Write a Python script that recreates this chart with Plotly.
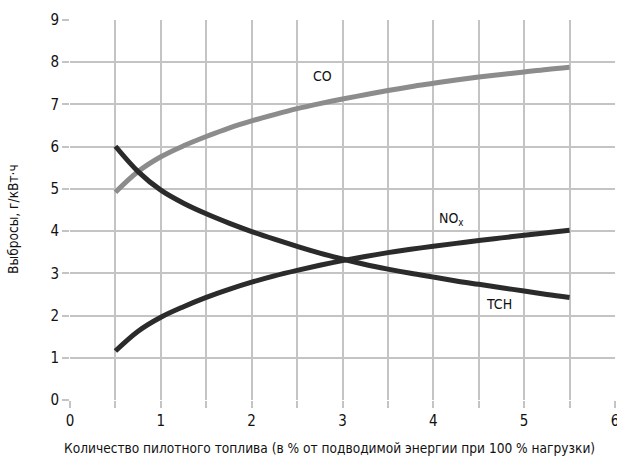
import plotly.graph_objects as go

# Data
pilot_fuel = [0.5, 0.75, 1.0, 1.25, 1.5, 1.75, 2.0, 2.25, 2.5, 2.75, 3.0,
              3.25, 3.5, 3.75, 4.0, 4.25, 4.5, 4.75, 5.0, 5.25, 5.5]
co_values = [4.92, 5.41, 5.76, 6.02, 6.24, 6.44, 6.61, 6.76, 6.90, 7.02, 7.13,
             7.23, 7.33, 7.42, 7.50, 7.58, 7.65, 7.71, 7.77, 7.83, 7.88]
tch_values = [6.01, 5.41, 4.97, 4.66, 4.41, 4.19, 3.99, 3.81, 3.64, 3.48, 3.34,
              3.21, 3.10, 3.00, 2.91, 2.82, 2.74, 2.66, 2.58, 2.50, 2.43]
nox_values = [1.16, 1.63, 1.96, 2.21, 2.43, 2.62, 2.79, 2.94, 3.07, 3.19, 3.30,
              3.40, 3.49, 3.57, 3.64, 3.71, 3.78, 3.84, 3.90, 3.96, 4.02]

x_ticks = [0, 1, 2, 3, 4, 5, 6]
y_ticks = [0, 1, 2, 3, 4, 5, 6, 7, 8, 9]

x_title = "Количество пилотного топлива (в % от подводимой энергии при 100 % нагрузки)"
y_title = "Выбросы, г/кВт·ч"

FONT = "DejaVu Sans Condensed, Liberation Sans Narrow, sans-serif"
GRID = "#c4c4c4"

fig = go.Figure()
fig.add_trace(go.Scatter(x=pilot_fuel, y=co_values, mode="lines", name="CO",
                         line=dict(color="#8c8c8c", width=5, shape="spline")))
fig.add_trace(go.Scatter(x=pilot_fuel, y=tch_values, mode="lines", name="TCH",
                         line=dict(color="#2b2b2b", width=5, shape="spline")))
fig.add_trace(go.Scatter(x=pilot_fuel, y=nox_values, mode="lines", name="NOx",
                         line=dict(color="#2b2b2b", width=5, shape="spline")))

fig.add_annotation(x=2.78, y=7.68, text="CO", showarrow=False,
                   font=dict(family=FONT, size=14, color="#111"))
fig.add_annotation(x=4.20, y=4.29, text="NO<sub>x</sub>", showarrow=False,
                   font=dict(family=FONT, size=14, color="#111"))
fig.add_annotation(x=4.72, y=2.27, text="TCH", showarrow=False,
                   font=dict(family=FONT, size=14, color="#111"))

fig.add_annotation(xref="paper", yref="paper", x=0.477, y=-0.125, yanchor="middle",
                   text=x_title, showarrow=False,
                   font=dict(family=FONT, size=13.6, color="#111"))
fig.add_annotation(xref="paper", yref="paper", x=-0.105, y=0.476, xanchor="center",
                   yanchor="middle", textangle=-90,
                   text=y_title, showarrow=False,
                   font=dict(family=FONT, size=13.6, color="#111"))

fig.update_xaxes(range=[0, 6], tickvals=x_ticks, ticktext=[str(v) for v in x_ticks],
                 showgrid=True, gridcolor=GRID, gridwidth=2,
                 ticks="outside", ticklen=7, tickcolor=GRID, tickwidth=2,
                 minor=dict(dtick=0.5, showgrid=True, gridcolor=GRID, gridwidth=2,
                            ticks="outside", ticklen=7, tickcolor=GRID, tickwidth=2),
                 zeroline=False, showline=False, automargin=False,
                 ticklabeloverflow="allow",
                 tickfont=dict(family=FONT, size=15, color="#111"))
fig.update_yaxes(range=[0, 9], tickvals=y_ticks, ticktext=[str(v) for v in y_ticks],
                 showgrid=True, gridcolor=GRID, gridwidth=2,
                 ticks="outside", ticklen=7, tickcolor=GRID, tickwidth=2,
                 zeroline=False, showline=False, automargin=False,
                 tickfont=dict(family=FONT, size=15, color="#111"))

fig.update_layout(width=617, height=463, showlegend=False,
                  margin=dict(l=70, r=2, t=20, b=63),
                  plot_bgcolor="white", paper_bgcolor="white")

fig.write_html("out.html")
